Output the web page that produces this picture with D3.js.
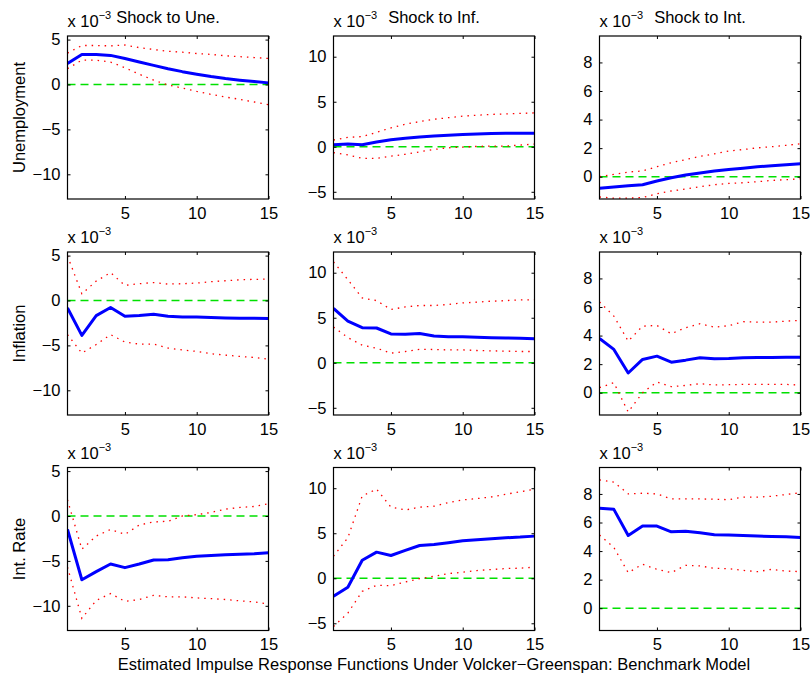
<!DOCTYPE html>
<html>
<head>
<meta charset="utf-8">
<script src="https://cdn.jsdelivr.net/npm/d3@7"></script>
<style>
  body { margin: 0; background: #fff; }
  svg text { font-family: "Liberation Sans", Arial, sans-serif; fill: #000; }
</style>
</head>
<body>
<div id="chart"></div>
<script>
// Horizons (quarters) and labels
const horizons = [1, 2, 3, 4, 5, 6, 7, 8, 9, 10, 11, 12, 13, 14, 15];
const shockTitles = ['Shock to Une.', 'Shock to Inf.', 'Shock to Int.'];
const responseLabels = ['Unemployment', 'Inflation', 'Int. Rate'];
const xTicks = [5, 10, 15];
const colTicks = [[-10, -5, 0, 5], [-5, 0, 5, 10], [0, 2, 4, 6, 8]];
const colDomains = [[-12.75, 5.4], [-5.8, 12.3], [-1.56, 9.85]];
const caption = 'Estimated Impulse Response Functions Under Volcker\u2212Greenspan: Benchmark Model';

// Responses (x 10^-3): median, lower and upper bands
const uneUneMid = [2.35, 3.35, 3.35, 3.24, 2.9, 2.5, 2.13, 1.76, 1.43, 1.14, 0.88, 0.66, 0.48, 0.33, 0.18];
const uneUneLo  = [1.76, 2.72, 2.7, 2.5, 1.87, 1.14, 0.48, -0.04, -0.4, -0.77, -1.1, -1.4, -1.65, -1.95, -2.24];
const uneUneHi  = [3.5, 4.34, 4.34, 4.3, 4.4, 4.1, 3.9, 3.7, 3.6, 3.45, 3.35, 3.2, 3.1, 3.0, 2.9];

const uneInfMid = [0.23, 0.3, 0.23, 0.53, 0.79, 0.94, 1.09, 1.2, 1.28, 1.35, 1.43, 1.47, 1.5, 1.5, 1.5];
const uneInfLo  = [-0.64, -0.9, -1.28, -1.3, -1.05, -0.83, -0.56, -0.3, -0.11, -0.04, 0.04, 0.08, 0.08, 0.19, 0.3];
const uneInfHi  = [0.75, 1.05, 1.13, 1.6, 2.1, 2.5, 2.8, 3.05, 3.23, 3.4, 3.5, 3.6, 3.65, 3.7, 3.76];

const uneIntMid = [-0.81, -0.72, -0.63, -0.56, -0.3, -0.07, 0.12, 0.26, 0.4, 0.51, 0.6, 0.7, 0.77, 0.84, 0.9];
const uneIntLo  = [-1.42, -1.5, -1.5, -1.46, -1.19, -1.0, -0.86, -0.7, -0.56, -0.47, -0.42, -0.35, -0.26, -0.21, -0.14];
const uneIntHi  = [0.0, 0.16, 0.33, 0.4, 0.7, 0.98, 1.2, 1.42, 1.6, 1.8, 1.9, 2.02, 2.1, 2.2, 2.3];

const infUneMid = [-0.82, -3.88, -1.68, -0.78, -1.75, -1.68, -1.53, -1.75, -1.83, -1.83, -1.9, -1.94, -1.98, -1.98, -2.0];
const infUneLo  = [-3.8, -5.86, -4.9, -3.8, -4.63, -4.85, -4.85, -5.3, -5.5, -5.67, -5.93, -6.08, -6.23, -6.34, -6.53];
const infUneHi  = [4.96, 0.75, 2.16, 3.1, 1.68, 1.87, 2.0, 1.83, 1.87, 1.94, 2.09, 2.2, 2.3, 2.35, 2.39];

const infInfMid = [6.03, 4.63, 3.9, 3.86, 3.2, 3.16, 3.24, 2.98, 2.9, 2.9, 2.83, 2.79, 2.76, 2.72, 2.68];
const infInfLo  = [3.97, 2.8, 1.95, 1.62, 1.07, 1.25, 1.5, 1.47, 1.43, 1.43, 1.36, 1.32, 1.29, 1.25, 1.25];
const infInfHi  = [11.2, 9.23, 7.2, 6.9, 5.92, 6.2, 6.36, 6.36, 6.47, 6.65, 6.73, 6.84, 6.9, 6.98, 7.0];

const infIntMid = [3.8, 3.03, 1.38, 2.33, 2.56, 2.14, 2.28, 2.45, 2.38, 2.4, 2.45, 2.47, 2.47, 2.49, 2.49];
const infIntLo  = [0.35, 0.7, -1.35, 0.0, 0.75, 0.42, 0.51, 0.63, 0.54, 0.56, 0.58, 0.58, 0.58, 0.58, 0.54];
const infIntHi  = [6.36, 5.36, 3.61, 4.66, 4.71, 4.13, 4.55, 4.83, 4.59, 4.69, 4.97, 4.94, 4.94, 5.01, 5.06];

const intUneMid = [-1.5, -7.1, -6.2, -5.35, -5.75, -5.35, -4.9, -4.87, -4.65, -4.47, -4.4, -4.32, -4.25, -4.21, -4.1];
const intUneLo  = [-5.7, -11.4, -9.4, -8.64, -9.5, -9.3, -8.83, -9.0, -9.0, -9.12, -9.2, -9.3, -9.45, -9.56, -9.8];
const intUneHi  = [1.8, -3.7, -2.23, -1.5, -2.05, -1.0, -0.66, -0.59, 0.0, 0.15, 0.4, 0.77, 0.95, 1.06, 1.36];

const intInfMid = [-2.0, -1.0, 2.0, 2.9, 2.53, 3.09, 3.64, 3.75, 3.94, 4.16, 4.28, 4.39, 4.5, 4.57, 4.68];
const intInfLo  = [-5.35, -3.87, -1.45, -0.78, -0.82, -0.41, -0.04, 0.22, 0.52, 0.67, 0.86, 0.97, 1.08, 1.12, 1.23];
const intInfHi  = [2.45, 4.5, 9.14, 9.9, 7.9, 7.58, 7.9, 8.0, 8.4, 8.7, 8.85, 9.03, 9.33, 9.6, 9.9];

const intIntMid = [7.0, 6.92, 5.09, 5.75, 5.75, 5.35, 5.38, 5.28, 5.14, 5.12, 5.09, 5.05, 5.02, 5.0, 4.95];
const intIntLo  = [5.12, 4.25, 2.49, 3.08, 2.72, 2.49, 3.0, 2.96, 2.79, 2.77, 2.65, 2.56, 2.72, 2.6, 2.56];
const intIntHi  = [8.99, 8.83, 8.0, 8.05, 8.0, 7.65, 7.65, 7.65, 7.63, 7.6, 7.77, 7.77, 7.84, 7.96, 8.08];

// rows = responding variable, cols = shock
const panels = [
  [[uneUneMid, uneUneLo, uneUneHi], [uneInfMid, uneInfLo, uneInfHi], [uneIntMid, uneIntLo, uneIntHi]],
  [[infUneMid, infUneLo, infUneHi], [infInfMid, infInfLo, infInfHi], [infIntMid, infIntLo, infIntHi]],
  [[intUneMid, intUneLo, intUneHi], [intInfMid, intInfLo, intInfHi], [intIntMid, intIntLo, intIntHi]]
];

const width = 810, height = 679;
const colLeft = [67.5, 333.5, 599.5];
const rowTop = [36, 252, 467.5];
const boxW = 201, boxH = 163;
const tickLen = 3;
const fontSize = '16.5px';

const svg = d3.select('#chart').append('svg')
  .attr('width', width)
  .attr('height', height);

const xScale = d3.scaleLinear().domain([1, 15]).range([0, boxW]);

panels.forEach((row, r) => {
  row.forEach((series, c) => {
    const yScale = d3.scaleLinear().domain(colDomains[c]).range([boxH, 0]);
    const g = svg.append('g')
      .attr('transform', `translate(${colLeft[c]},${rowTop[r]})`);

    const clip = `clip-${r}-${c}`;
    g.append('clipPath').attr('id', clip)
      .append('rect').attr('width', boxW).attr('height', boxH);

    const plot = g.append('g').attr('clip-path', `url(#${clip})`);

    // zero line
    plot.append('line')
      .attr('x1', 0).attr('x2', boxW)
      .attr('y1', yScale(0)).attr('y2', yScale(0))
      .attr('stroke', '#00e000')
      .attr('stroke-width', 1.6)
      .attr('stroke-dasharray', '8,5');

    const line = d3.line()
      .x((d, i) => xScale(horizons[i]))
      .y(d => yScale(d));

    // bands
    [series[1], series[2]].forEach(band => {
      plot.append('path')
        .datum(band)
        .attr('fill', 'none')
        .attr('stroke', '#ff0000')
        .attr('stroke-width', 1.3)
        .attr('stroke-dasharray', '1.5,5')
        .attr('d', line);
    });

    // median response
    plot.append('path')
      .datum(series[0])
      .attr('fill', 'none')
      .attr('stroke', '#0000ff')
      .attr('stroke-width', 3)
      .attr('stroke-linejoin', 'round')
      .attr('d', line);

    // axes, ticks inside on all sides (box on)
    const fmt = d3.format('');
    g.append('g')
      .attr('transform', `translate(0,${boxH})`)
      .call(d3.axisBottom(xScale).tickValues(xTicks).tickSizeInner(-tickLen).tickSizeOuter(0).tickPadding(8).tickFormat(fmt));
    g.append('g')
      .call(d3.axisTop(xScale).tickValues(xTicks).tickSizeInner(-tickLen).tickSizeOuter(0).tickFormat(''));
    g.append('g')
      .call(d3.axisLeft(yScale).tickValues(colTicks[c]).tickSizeInner(-tickLen).tickSizeOuter(0).tickPadding(7).tickFormat(fmt));
    g.append('g')
      .attr('transform', `translate(${boxW},0)`)
      .call(d3.axisRight(yScale).tickValues(colTicks[c]).tickSizeInner(-tickLen).tickSizeOuter(0).tickFormat(''));

    g.selectAll('.domain').remove();
    g.selectAll('.tick line').attr('stroke', '#000').attr('stroke-width', 1);
    g.selectAll('.tick text')
      .style('font-family', '"Liberation Sans", Arial, sans-serif')
      .style('font-size', fontSize);

    g.append('rect')
      .attr('width', boxW).attr('height', boxH)
      .attr('fill', 'none')
      .attr('stroke', '#000')
      .attr('stroke-width', 1.2);

    // exponent label
    const exp = g.append('text')
      .attr('x', 0)
      .attr('y', -9)
      .style('font-size', fontSize);
    exp.append('tspan').text('x 10');
    exp.append('tspan')
      .attr('dy', -8)
      .style('font-size', '11px')
      .text('\u22123');

    if (r === 0) {
      g.append('text')
        .attr('x', boxW / 2)
        .attr('y', -13)
        .attr('text-anchor', 'middle')
        .style('font-size', fontSize)
        .text(shockTitles[c]);
    }

    if (c === 0) {
      g.append('text')
        .attr('transform', `translate(${24.5 - colLeft[0]},${boxH / 2}) rotate(-90)`)
        .attr('text-anchor', 'middle')
        .style('font-size', fontSize)
        .text(responseLabels[r]);
    }
  });
});

svg.append('text')
  .attr('x', 434)
  .attr('y', 670)
  .attr('text-anchor', 'middle')
  .style('font-size', fontSize)
  .text(caption);
</script>
</body>
</html>
